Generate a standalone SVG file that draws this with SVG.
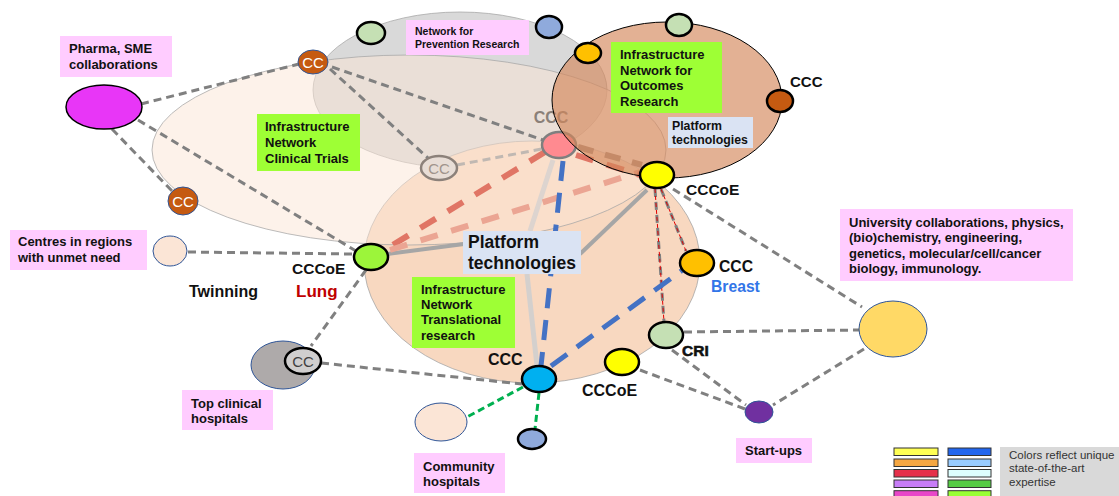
<svg xmlns="http://www.w3.org/2000/svg" width="1119" height="496" viewBox="0 0 1119 496">
<style>
text { font-family: "Liberation Sans", Arial, sans-serif; }
.b { font-weight: bold; fill: #111; }
.lbl { font-weight: bold; fill: #111; font-size: 13px; }
.pinkbox { fill: #ffccff; }
.greenbox { fill: #9eff35; }
.bluebox { fill: #dae3f3; }
.node { stroke: #000; stroke-width: 2.5; }
.thin { stroke: #2f5597; stroke-width: 1; }
.dg { fill: none; stroke: #808080; stroke-width: 3; stroke-dasharray: 8 5; }
.dr { fill: none; stroke: #e00000; stroke-width: 1; stroke-dasharray: 4 3; }
.dgreen { fill: none; stroke: #00b050; stroke-width: 3; stroke-dasharray: 7 4; }
.dblue { fill: none; stroke: #4472c4; stroke-width: 5; stroke-dasharray: 20 12; }
.dred { fill: none; stroke: #e07565; stroke-width: 6; stroke-dasharray: 18 14; }
.sg { stroke: #a6a6a6; stroke-width: 4; }
.cc { font-size: 15px; text-anchor: middle; }
.sw { stroke: #333; stroke-width: 1; }
</style>

<g id="regions">
  <ellipse id="region-prevention" cx="460" cy="90" rx="147" ry="78" fill="#d9d9d9" stroke="#a6a6a6" stroke-width="0.75"/>
  <ellipse id="region-translational" cx="532" cy="262" rx="168" ry="121" fill="#f8d8c0" stroke="#a0a0a0" stroke-width="0.75"/>
  <ellipse id="region-clinical" cx="409" cy="150" rx="257" ry="95" fill="#fbe5d6" fill-opacity="0.5" stroke="#a6a6a6" stroke-width="0.75"/>
</g>

<g id="connectors">
  <line class="dg" x1="141" y1="104" x2="299" y2="64"/>
  <line class="dg" x1="138" y1="120" x2="356" y2="251"/>
  <line class="dg" x1="112" y1="129" x2="172" y2="191"/>
  <line class="dg" x1="332" y1="67" x2="543" y2="140"/>
  <line class="dg" x1="330" y1="69" x2="428" y2="158"/>
  <line class="dg" x1="188" y1="252" x2="354" y2="254"/>
  <line class="dg" x1="366" y1="270" x2="311" y2="346"/>
  <line class="dg" x1="321" y1="363" x2="522" y2="384"/>
  <line class="dg" x1="673" y1="189" x2="862" y2="307"/>
  <line class="dg" x1="684" y1="332" x2="859" y2="330"/>
  <line class="dg" x1="672" y1="350" x2="746" y2="405"/>
  <line class="dg" x1="640" y1="370" x2="745" y2="409"/>
  <line class="dg" x1="864" y1="349" x2="773" y2="405"/>
  <line class="dg" x1="655" y1="189" x2="664" y2="322"/>
  <line class="dr" x1="655" y1="189" x2="664" y2="322"/>
  <line class="dg" x1="661" y1="189" x2="686" y2="251"/>
  <line class="dr" x1="661" y1="189" x2="686" y2="251"/>
  <line class="dgreen" x1="523" y1="387" x2="467" y2="417"/>
  <line class="dgreen" x1="539" y1="393" x2="535" y2="429"/>
  <line x1="457" y1="165" x2="542" y2="149" stroke="#c0b8b2" stroke-width="3" stroke-dasharray="8 5"/>
  <line class="sg" x1="387" y1="254" x2="464" y2="244"/>
  <line class="sg" x1="647" y1="190" x2="580" y2="254"/>
  <line x1="553" y1="160" x2="530" y2="231" stroke="#ddd4cf" stroke-width="5"/>
  <line x1="527" y1="274" x2="537" y2="366" stroke="#d4d0cd" stroke-width="5"/>
  <line class="dred" x1="545" y1="152" x2="386" y2="249"/>
  <line x1="390" y1="250" x2="640" y2="172" stroke="#eba593" stroke-width="6" stroke-dasharray="18 14"/>
  <line x1="578" y1="147" x2="642" y2="165" stroke="#a89080" stroke-width="6" stroke-dasharray="16 12"/>
  <line class="dred" x1="576" y1="155" x2="640" y2="175" stroke-width="4"/>
  <line class="dblue" x1="563" y1="161" x2="541" y2="366"/>
  <line class="dblue" x1="551" y1="366" x2="688" y2="266"/>
</g>

<g id="node-ccc-pink">
  <ellipse cx="559" cy="145" rx="17" ry="13" fill="#ff8a90" stroke="#7f7f7f" stroke-width="2.5"/>
  <text x="551" y="123" font-size="16" font-weight="bold" fill="#8a8078" text-anchor="middle">CCC</text>
</g>

<g id="region-outcomes">
  <ellipse cx="667" cy="100" rx="115" ry="78" fill="#d4875a" fill-opacity="0.65" stroke="#000" stroke-width="1"/>
</g>

<g id="label-pharma">
  <rect class="pinkbox" x="60" y="36" width="112" height="41"/>
  <text class="lbl" x="69" y="53" font-size="12.5">Pharma, SME</text>
  <text class="lbl" x="69" y="69" font-size="12.5">collaborations</text>
</g>
<g id="node-pharma">
  <ellipse cx="104" cy="107" rx="38" ry="22" fill="#e836f7" stroke="#000" stroke-width="1.5"/>
</g>

<g id="node-cc-top">
  <ellipse cx="313" cy="62" rx="15" ry="12" fill="#c55a11" class="thin"/>
  <text class="cc" x="313" y="67.5" fill="#fff">CC</text>
</g>
<g id="node-cc-left">
  <ellipse cx="183" cy="201" rx="15" ry="14" fill="#c55a11" class="thin"/>
  <text class="cc" x="183" y="207" fill="#fff">CC</text>
</g>

<g id="node-prev-green">
  <ellipse cx="371" cy="33" rx="14" ry="11" fill="#c5e0b4" class="node"/>
</g>
<g id="node-prev-blue">
  <ellipse cx="549" cy="27" rx="13" ry="11" fill="#8faadc" class="node"/>
</g>
<g id="label-prevention">
  <rect class="pinkbox" x="406" y="20" width="123" height="35"/>
  <text class="b" x="415" y="35" font-size="10.5">Network for</text>
  <text class="b" x="415" y="48" font-size="10.5">Prevention Research</text>
</g>

<g id="label-clinical">
  <rect class="greenbox" x="257" y="114" width="103" height="57"/>
  <text class="lbl" x="265" y="131">Infrastructure</text>
  <text class="lbl" x="265" y="147">Network</text>
  <text class="lbl" x="265" y="163">Clinical Trials</text>
</g>

<g id="node-cc-grey">
  <ellipse cx="439" cy="168" rx="18" ry="12" fill="#e8ddd6" stroke="#8c817a" stroke-width="2.5"/>
  <text class="cc" x="439" y="173.5" fill="#a0948c">CC</text>
</g>

<g id="node-outcomes-green">
  <ellipse cx="679" cy="25" rx="13" ry="11" fill="#c5e0b4" class="node"/>
</g>
<g id="node-outcomes-orange">
  <ellipse cx="588" cy="53" rx="13" ry="10" fill="#ffc000" class="node"/>
</g>
<g id="label-outcomes">
  <rect class="greenbox" x="611" y="42" width="111" height="71"/>
  <text class="lbl" x="620" y="59">Infrastructure</text>
  <text class="lbl" x="620" y="75">Network for</text>
  <text class="lbl" x="620" y="90">Outcomes</text>
  <text class="lbl" x="620" y="106">Research</text>
</g>
<g id="node-ccc-brown">
  <ellipse cx="780" cy="101" rx="13" ry="11" fill="#c55a11" class="node"/>
  <text class="b" x="790" y="87" font-size="15">CCC</text>
</g>
<g id="label-platform-small">
  <rect class="bluebox" x="668" y="117" width="85" height="31"/>
  <text class="b" x="672" y="130" font-size="12.3">Platform</text>
  <text class="b" x="672" y="144" font-size="12.3">technologies</text>
</g>

<g id="node-cccoe-yellow">
  <ellipse cx="657" cy="175" rx="17" ry="13" fill="#ffff00" class="node"/>
  <text class="b" x="686" y="195" font-size="15.5">CCCoE</text>
</g>

<g id="label-centres">
  <rect class="pinkbox" x="10" y="230" width="137" height="40"/>
  <text class="lbl" x="18" y="246">Centres in regions</text>
  <text class="lbl" x="18" y="262">with unmet need</text>
</g>
<g id="node-centres">
  <ellipse cx="170" cy="251" rx="17" ry="15" fill="#fbe5d6" class="thin"/>
</g>

<g id="node-cccoe-lung">
  <ellipse cx="371" cy="257" rx="17" ry="13" fill="#9cf53a" class="node"/>
  <text class="b" x="292" y="274" font-size="15.5">CCCoE</text>
  <text x="296" y="297" font-size="17" font-weight="bold" fill="#c00000">Lung</text>
</g>
<text class="b" x="189" y="297" font-size="16">Twinning</text>

<g id="label-platform">
  <rect class="bluebox" x="463" y="231" width="118" height="43"/>
  <text class="b" x="468" y="248" font-size="17.5">Platform</text>
  <text class="b" x="468" y="269" font-size="17.5">technologies</text>
</g>

<g id="label-translational">
  <rect class="greenbox" x="412" y="277" width="103" height="71"/>
  <text class="lbl" x="421" y="294" font-size="12.8">Infrastructure</text>
  <text class="lbl" x="421" y="309" font-size="12.8">Network</text>
  <text class="lbl" x="421" y="324" font-size="12.8">Translational</text>
  <text class="lbl" x="421" y="340" font-size="12.8">research</text>
</g>

<g id="node-ccc-breast">
  <ellipse cx="697" cy="263" rx="17" ry="13" fill="#ffc000" class="node"/>
  <text class="b" x="719" y="272" font-size="15.7">CCC</text>
  <text x="711" y="292" font-size="15.7" font-weight="bold" fill="#3275e8">Breast</text>
</g>

<g id="node-cri">
  <ellipse cx="666" cy="335" rx="17" ry="13" fill="#c5e0b4" class="node"/>
  <text class="b" x="682" y="356" font-size="15.5" stroke="#111" stroke-width="0.6">CRI</text>
</g>

<g id="node-cccoe-bottom">
  <ellipse cx="622" cy="362" rx="17" ry="13" fill="#ffff00" class="node"/>
  <text class="b" x="582" y="396" font-size="16">CCCoE</text>
</g>

<g id="node-ccc-blue">
  <ellipse cx="539" cy="379" rx="17" ry="13" fill="#00b0f0" class="node"/>
  <text class="b" x="488" y="365" font-size="16">CCC</text>
</g>

<g id="node-top-clinical">
  <ellipse cx="283" cy="365" rx="32" ry="24" fill="#aeaaaa" class="thin"/>
  <ellipse cx="303" cy="361" rx="18" ry="13" fill="#d0cece" class="node"/>
  <text class="cc" x="303" y="366.5" fill="#404040">CC</text>
</g>
<g id="label-top-clinical">
  <rect class="pinkbox" x="182" y="390" width="91" height="40"/>
  <text class="lbl" x="191" y="408" font-size="12.5">Top clinical</text>
  <text class="lbl" x="191" y="423" font-size="12.5">hospitals</text>
</g>

<g id="node-community">
  <ellipse cx="441" cy="422" rx="26" ry="19" fill="#fbe5d6" class="thin"/>
</g>
<g id="node-small-blue">
  <ellipse cx="532" cy="439" rx="14" ry="10" fill="#8faadc" class="node"/>
</g>
<g id="label-community">
  <rect class="pinkbox" x="414" y="453" width="91" height="40"/>
  <text class="lbl" x="423" y="471" font-size="12.5">Community</text>
  <text class="lbl" x="423" y="486" font-size="12.5">hospitals</text>
</g>

<g id="node-university">
  <ellipse cx="893" cy="329" rx="34" ry="28" fill="#ffd966" class="thin"/>
</g>
<g id="label-university">
  <rect class="pinkbox" x="840" y="209" width="233" height="72"/>
  <text class="lbl" x="849" y="227">University collaborations, physics,</text>
  <text class="lbl" x="849" y="242">(bio)chemistry, engineering,</text>
  <text class="lbl" x="849" y="258">genetics, molecular/cell/cancer</text>
  <text class="lbl" x="849" y="273">biology, immunology.</text>
</g>

<g id="node-startups">
  <ellipse cx="759" cy="412" rx="14" ry="11" fill="#7030a0" class="thin"/>
</g>
<g id="label-startups">
  <rect class="pinkbox" x="736" y="438" width="76" height="25"/>
  <text class="lbl" x="745" y="455" font-size="12.5">Start-ups</text>
</g>

<g id="legend">
  <rect class="sw" x="894" y="448" width="44" height="7.5" fill="#ffff55"/>
  <rect class="sw" x="894" y="459" width="44" height="7.5" fill="#f5a742"/>
  <rect class="sw" x="894" y="469.5" width="44" height="7.5" fill="#e5304a"/>
  <rect class="sw" x="894" y="480" width="44" height="7.5" fill="#c77df7"/>
  <rect class="sw" x="894" y="490.7" width="44" height="7.5" fill="#e846c8"/>
  <rect class="sw" x="948" y="448" width="43" height="7.5" fill="#2266ee"/>
  <rect class="sw" x="948" y="459" width="43" height="7.5" fill="#99ccff"/>
  <rect class="sw" x="948" y="469.5" width="43" height="7.5" fill="#ddffff"/>
  <rect class="sw" x="948" y="480" width="43" height="7.5" fill="#55cc44"/>
  <rect class="sw" x="948" y="490.7" width="43" height="7.5" fill="#99ff33"/>
  <rect x="1000" y="447" width="119" height="49" fill="#d9d9d9"/>
  <text x="1009" y="459" font-size="11.5" fill="#333">Colors reflect unique</text>
  <text x="1009" y="472" font-size="11.5" fill="#333">state-of-the-art</text>
  <text x="1009" y="486" font-size="11.5" fill="#333">expertise</text>
</g>
</svg>
